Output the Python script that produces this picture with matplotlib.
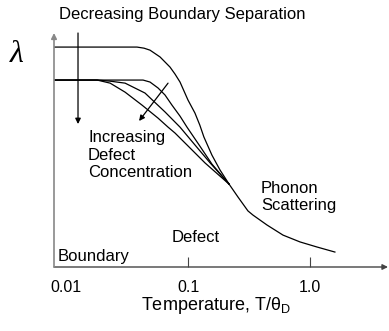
"""
Schematic: phonon mean free path vs reduced temperature, with boundary,
defect and phonon-scattering regimes.
"""

import matplotlib
matplotlib.use("Agg")
import matplotlib.pyplot as plt

plt.rcParams["font.family"] = ["Liberation Sans", "DejaVu Sans"]
plt.rcParams["mathtext.fontset"] = "custom"
plt.rcParams["mathtext.rm"] = "Liberation Sans"

# reduced temperature T/theta_D and mean free path (arb. units)
large_sep_t = [0.00797, 0.0382, 0.0436, 0.0488, 0.0590, 0.0712, 0.0783, 0.0860,
               0.100, 0.114, 0.125, 0.135, 0.157, 0.183, 0.217]
large_sep_lam = [10.0, 10.0, 9.95, 9.86, 9.55, 9.09, 8.77, 8.41,
                 7.59, 7.0, 6.45, 5.91, 5.09, 4.41, 3.77]

pure_t = [0.00797, 0.0428, 0.0488, 0.0568, 0.0648, 0.0739, 0.0860, 0.0981,
          0.125, 0.157, 0.217]
pure_lam = [8.5, 8.5, 8.41, 8.14, 7.82, 7.36, 6.86, 6.36, 5.5, 4.68, 3.77]

some_defect_t = [0.00797, 0.0180, 0.0230, 0.0305, 0.0444, 0.0648, 0.0860,
                 0.114, 0.152, 0.217]
some_defect_lam = [8.5, 8.5, 8.45, 8.36, 7.91, 7.05, 6.36, 5.55, 4.73, 3.77]

many_defect_t = [0.00797, 0.0180, 0.0230, 0.0305, 0.0420, 0.0568, 0.0686,
                 0.0783, 0.104, 0.138, 0.217]
many_defect_lam = [8.5, 8.5, 8.36, 7.95, 7.36, 6.77, 6.36, 6.09, 5.41, 4.73, 3.77]

phonon_t = [0.217, 0.257, 0.310, 0.341, 0.444, 0.601, 0.828, 1.14, 1.60]
phonon_lam = [3.77, 3.18, 2.55, 2.36, 1.91, 1.45, 1.14, 0.91, 0.68]

tick_vals = [0.01, 0.1, 1.0]
tick_labels = ["0.01", "0.1", "1.0"]

W, H = 389, 331
fig = plt.figure(figsize=(W / 100, H / 100), dpi=100)
ax = fig.add_axes([54 / W, (H - 267) / H, (388 - 54) / W, (267 - 33) / H])
ax.patch.set_alpha(0)

for t, lam in [(large_sep_t, large_sep_lam), (pure_t, pure_lam),
               (some_defect_t, some_defect_lam), (many_defect_t, many_defect_lam),
               (phonon_t, phonon_lam)]:
    ax.plot(t, lam, color="black", lw=0.9, solid_joinstyle="round")

ax.set_xscale("log")
ax.set_xlim(0.00797, 4.36)
ax.set_ylim(0, 10.64)
for s in ax.spines.values():
    s.set_visible(False)

# axis arrows
ax.annotate("", xy=(1, 0), xytext=(0, 0), xycoords="axes fraction",
            arrowprops=dict(arrowstyle="-|>", color="#444444", lw=1.0,
                            mutation_scale=8, shrinkA=0, shrinkB=0))
ax.annotate("", xy=(0, 1), xytext=(0, 0), xycoords="axes fraction",
            arrowprops=dict(arrowstyle="-|>", color="#888888", lw=1.2,
                            mutation_scale=8, shrinkA=0, shrinkB=0))

ax.set_xticks(tick_vals)
ax.set_xticklabels(tick_labels, fontsize=11.5)
ax.minorticks_off()
ax.set_yticks([])
ax.tick_params(axis="x", direction="in", length=7, color="#444444", pad=9)
ax.xaxis.get_major_ticks()[0].tick1line.set_visible(False)

# boundary separation and defect arrows
ax.annotate("", xy=(0.01254, 6.5), xytext=(0.01254, 10.64),
            arrowprops=dict(arrowstyle="-|>", color="black", lw=0.9,
                            mutation_scale=8, shrinkA=0, shrinkB=0))
ax.annotate("", xy=(0.0397, 6.64), xytext=(0.0686, 8.36),
            arrowprops=dict(arrowstyle="-|>", color="black", lw=0.9,
                            mutation_scale=8, shrinkA=0, shrinkB=0))


def ftext(x, y, s, **kw):
    fig.text(x / W, 1 - y / H, s, va="center", **kw)


ftext(182, 15, "Decreasing Boundary Separation", ha="center", fontsize=12)
ftext(17, 55, "λ", ha="center", fontsize=23, style="italic",
      family=["Liberation Serif", "DejaVu Serif"])
ftext(88, 155, "Increasing\nDefect\nConcentration", ha="left", fontsize=12)
ftext(261, 197, "Phonon\nScattering", ha="left", fontsize=12)
ftext(172, 237, "Defect", ha="left", fontsize=12)
ftext(58, 257, "Boundary", ha="left", fontsize=12)
ftext(216, 306, r"Temperature, T/θ$_\mathrm{D}$", ha="center", fontsize=13)

fig.savefig("out.png", dpi=100)
plt.close(fig)
